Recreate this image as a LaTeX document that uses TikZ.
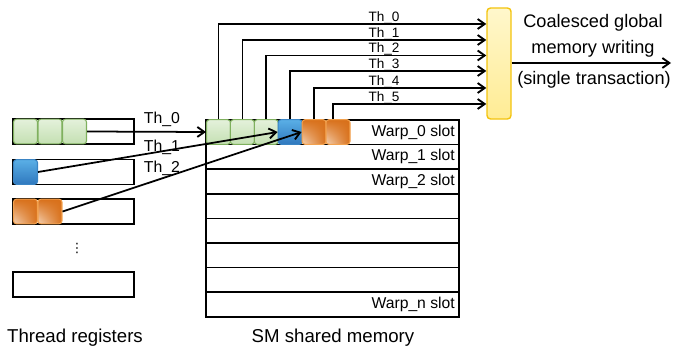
\documentclass[tikz,border=0pt]{standalone}
\usepackage{fontspec}
\setmainfont{Liberation Sans}
\newfontfamily\symfont{DejaVu Sans}
\usetikzlibrary{arrows.meta,shadings}
\definecolor{gline}{HTML}{7FB05E}
\definecolor{gtop}{HTML}{E4F1DB}
\definecolor{gbot}{HTML}{C4E0B2}
\definecolor{bline}{HTML}{3A84C4}
\definecolor{btop}{HTML}{5AAFE6}
\definecolor{bbot}{HTML}{2F78BE}
\definecolor{oline}{HTML}{F2A14E}
\definecolor{odark}{HTML}{D8701A}
\definecolor{olight}{HTML}{F4D2B4}
\definecolor{yline}{HTML}{F3C40F}
\definecolor{ytop}{HTML}{FFF7CC}
\definecolor{ybot}{HTML}{FFEC94}
\tikzset{
  reg/.style={draw, line width=1.3pt, minimum width=3.63cm, minimum height=0.75cm, inner sep=0pt},
  memrow/.style={draw, line width=1.3pt, minimum width=7.59cm, minimum height=0.738cm, inner sep=0pt},
  cell/.style={line width=0.9pt, rounded corners=2.5pt, minimum width=0.72cm, minimum height=0.74cm, inner sep=0pt},
  gcell/.style={cell, draw=gline, top color=gtop, bottom color=gbot},
  bcell/.style={cell, draw=bline, top color=btop, bottom color=bbot},
  ocell/.style={cell, draw=oline, upper left=odark, upper right=odark, lower right=odark, lower left=olight},
  arr/.style={line width=1.5pt, -{Straight Barb[length=6pt, width=8.5pt, line width=1.6pt]}},
  thtop/.style={font=\fontsize{11.6}{13}\selectfont, anchor=south, inner sep=0pt},
  thleft/.style={font=\fontsize{13.5}{15}\selectfont, inner sep=0pt},
  slot/.style={font=\fontsize{13.4}{15}\selectfont, anchor=east, inner sep=0pt},
  caption/.style={font=\fontsize{15.9}{18}\selectfont, inner sep=0pt}
}
\begin{document}
\begin{tikzpicture}[x=0.03cm, y=-0.03cm]
\useasboundingbox (0,0) rectangle (684,347);
% thread registers
\node[reg] (R_0) at (73.5,131.5) {};
\node[reg] (R_1) at (73.5,172) {};
\node[reg] (R_2) at (73.5,211.5) {};
\node[reg] (R_n) at (73.5,284.5) {};
\node[font=\symfont\fontsize{11}{13}\selectfont, inner sep=0pt] (R_dots) at (77,248) {⋮};
\node[gcell] (R_0_0) at (25.5,131.5) {};
\node[gcell] (R_0_1) at (50,131.5) {};
\node[gcell] (R_0_2) at (74.5,131.5) {};
\node[bcell] (R_1_0) at (25.5,172) {};
\node[ocell] (R_2_0) at (25.5,211.5) {};
\node[ocell] (R_2_1) at (50,211.5) {};
% SM shared memory
\foreach \i in {0,...,7}
  \node[memrow] (S_\i) at (332.5,{132.3+24.6*\i}) {};
\node[slot] (L_0) at (455,132.3) {Warp\_0 slot};
\node[slot] (L_1) at (455,156.9) {Warp\_1 slot};
\node[slot] (L_2) at (455,181.5) {Warp\_2 slot};
\node[slot] (L_n) at (455,304.5) {Warp\_n slot};
\node[gcell] (M_0) at (218.5,132) {};
\node[gcell] (M_1) at (242.4,132) {};
\node[gcell] (M_2) at (266.3,132) {};
\node[bcell] (M_3) at (290.2,132) {};
\node[ocell] (M_4) at (314.1,132) {};
\node[ocell] (M_5) at (338,132) {};
% registers to shared memory
\draw[arr] (R_0_2.east) -- (M_0.west);
\node[thleft] (T_l0) at (162,119) {Th\_0};
\draw[arr] (R_1_0.east) -- (M_3.west);
\node[thleft] (T_l1) at (162,147) {Th\_1};
\draw[arr] (R_2_1.east) -- (M_4.west);
\node[thleft] (T_l2) at (162,168) {Th\_2};
% coalescing unit
\node[draw=yline, line width=1.2pt, rounded corners=3pt, top color=ytop, bottom color=ybot,
  minimum width=0.72cm, minimum height=3.33cm, inner sep=0pt] (W) at (499,63.5) {};
\foreach \i/\y/\dx in {0/24/0,1/40/0,2/55.5/0,3/71/0,4/88/0,5/104/-5} {
  \draw[arr] ([xshift=\dx*0.03cm]M_\i.north) |- (W.west |- 0,\y);
  \node[thtop] (T_\i) at (384,\y) {Th\_\i};
}
\coordinate (G) at (671,63);
\draw[arr] (W.east |- G) -- (G);
\node[font=\fontsize{15.5}{22}\selectfont, align=center, inner sep=0pt] (C_1) at (593,36) {Coalesced global\\memory writing};
\node[font=\fontsize{15.5}{18}\selectfont, inner sep=0pt] (C_2) at (594,80) {(single transaction)};
% captions
\node[caption] (N_reg) at (75,338) {Thread registers};
\node[caption] (N_mem) at (333,338) {SM shared memory};
\end{tikzpicture}
\end{document}
